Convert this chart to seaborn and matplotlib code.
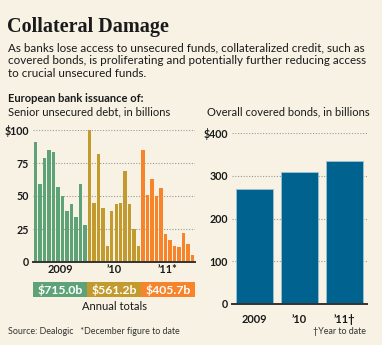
import matplotlib
matplotlib.use("Agg")
import matplotlib.pyplot as plt
import seaborn as sns
import pandas as pd
import numpy as np
from matplotlib.patches import Rectangle

# ---------------- data ----------------
years = ["2009", "'10", "'11"]
year_labels = ["2009", "\u201910", "\u201911*"]
unsecured_2009 = [91, 59, 79, 85, 83, 57, 50, 39, 44, 34, 59, 28]
unsecured_2010 = [100, 45, 82, 41, 12, 39, 44, 45, 69, 44, 25, 12]
unsecured_2011 = [85, 51, 63, 50, 56, 21, 17, 12, 11, 22, 14, 5]
annual_totals = ["$715.0b", "$561.2b", "$405.7b"]
left_ticks = [0, 25, 50, 75, 100]
left_tick_labels = ["0", "25", "50", "75", "$100"]

covered_years = ["2009", "\u201910", "\u201911\u2020"]
covered_values = [270, 309, 334]
right_ticks = [0, 100, 200, 300, 400]
right_tick_labels = ["0", "100", "200", "300", "$400"]

# ---------------- style ----------------
BG = "#f7f2e4"
GREEN = "#5ea378"
GOLD = "#c39a2e"
ORANGE = "#f7832a"
BLUE = "#00628f"
year_colors = [GREEN, GOLD, ORANGE]
FONT = "Lato"

sns.set_theme(style="white")
plt.rcParams["font.family"] = [FONT, "DejaVu Sans"]

W, H = 382, 345
fig = plt.figure(figsize=(W / 100, H / 100), dpi=100, facecolor=BG)

def rect(x0, y0, x1, y1):
    return [x0 / W, 1 - y1 / H, (x1 - x0) / W, (y1 - y0) / H]

def fx(px):
    return px / W

def fy(py):
    return 1 - py / H

# ---------------- texts ----------------
fig.text(fx(7), fy(27), "Collateral Damage", fontsize=14.5, fontweight="bold",
         family=["Liberation Serif", "DejaVu Serif"], va="center", ha="left", color="#1a1a1a")
sub = ("As banks lose access to unsecured funds, collateralized credit, such as\n"
       "covered bonds, is proliferating and potentially further reducing access\n"
       "to crucial unsecured funds.")
fig.text(fx(8), fy(42.5), sub, fontsize=8.4, va="top", ha="left", color="#1a1a1a",
         linespacing=1.2)
fig.text(fx(8), fy(98), "European bank issuance of:", fontsize=8.0, fontweight="bold",
         va="center", ha="left", color="#1a1a1a")
fig.text(fx(8), fy(112), "Senior unsecured debt, in billions", fontsize=8.0,
         va="center", ha="left", color="#1a1a1a")
fig.text(fx(207), fy(112), "Overall covered bonds, in billions", fontsize=8.0,
         va="center", ha="left", color="#1a1a1a")
fig.text(fx(8), fy(331), "Source: Dealogic   *December figure to date", fontsize=6.4,
         va="center", ha="left", color="#333333")
fig.text(fx(366), fy(332), "\u2020Year to date", fontsize=6.4,
         va="center", ha="right", color="#333333")
fig.text(fx(114), fy(307), "Annual totals", fontsize=8.0,
         va="center", ha="center", color="#1a1a1a")

# ---------------- left chart ----------------
vals = unsecured_2009 + unsecured_2010 + unsecured_2011
yr = [years[0]] * 12 + [years[1]] * 12 + [years[2]] * 12
df = pd.DataFrame({"idx": list(range(len(vals))), "value": vals, "year": yr})

axL = fig.add_axes(rect(33, 130, 195, 262))
axL.set_facecolor("none")
for t in left_ticks[1:]:
    axL.axhline(t, color="#9a9a9a", lw=0.8, ls=(0, (1, 1.5)), zorder=1)
sns.barplot(data=df, x="idx", y="value", hue="year", palette=year_colors,
            dodge=False, width=0.76, legend=False, ax=axL, saturation=1,
            linewidth=0, zorder=2)
axL.set_xlim(-0.6, 35.6)
axL.set_ylim(0, 100)
axL.set_yticks(left_ticks)
axL.set_yticklabels(left_tick_labels, fontsize=7.7, fontweight="bold", color="#1a1a1a")
axL.tick_params(axis="y", length=0, pad=3)
axL.set_xticks([5.5, 17.5, 29.5])
axL.set_xticklabels(year_labels, fontsize=7.9, fontweight="bold", color="#1a1a1a")
axL.tick_params(axis="x", length=0, pad=1.5)
axL.set_xticks([11.5, 23.5], minor=True)
axL.tick_params(axis="x", which="minor", length=4, width=0.8, color="#bbbbbb")
axL.set_xlabel("")
axL.set_ylabel("")
for s in ["top", "right", "left"]:
    axL.spines[s].set_visible(False)
axL.spines["bottom"].set_color("#333333")
axL.spines["bottom"].set_linewidth(1.4)
axL.spines["bottom"].set_zorder(4)

# annual totals boxes
axB = fig.add_axes(rect(33, 282, 195, 297))
axB.set_xlim(-0.6, 35.6)
axB.set_ylim(0, 1)
axB.axis("off")
for i, (lab, c) in enumerate(zip(annual_totals, year_colors)):
    x0 = 12 * i - 0.6 if i == 0 else 12 * i - 0.5
    x1 = 12 * i + 11.5 if i < 2 else 35.6
    axB.add_patch(Rectangle((x0, 0), x1 - x0, 1, color=c, lw=0))
    axB.text((x0 + x1) / 2, 0.5, lab, color="white", fontsize=8.8,
             fontweight="bold", ha="center", va="center")

# ---------------- right chart ----------------
axR = fig.add_axes(rect(232, 133, 367, 304))
axR.set_facecolor("none")
for t in right_ticks[1:]:
    axR.axhline(t, color="#9a9a9a", lw=0.8, ls=(0, (1, 1.5)), zorder=1)
dfr = pd.DataFrame({"year": covered_years, "value": covered_values})
sns.barplot(data=dfr, x="year", y="value", color=BLUE, saturation=1, width=0.82,
            linewidth=0.6, edgecolor="#9cc3d3", ax=axR, zorder=2)
axR.set_xlim(-0.5, 2.5)
axR.set_ylim(0, 400)
axR.set_yticks(right_ticks)
axR.set_yticklabels(right_tick_labels, fontsize=7.7, fontweight="bold", color="#1a1a1a")
axR.tick_params(axis="y", length=0, pad=3)
axR.tick_params(axis="x", length=3, width=0.8, color="#999999", pad=4,
                labelsize=7.9)
for lab in axR.get_xticklabels():
    lab.set_fontweight("bold")
    lab.set_color("#1a1a1a")
axR.set_xlabel("")
axR.set_ylabel("")
for s in ["top", "right", "left"]:
    axR.spines[s].set_visible(False)
axR.spines["bottom"].set_color("#333333")
axR.spines["bottom"].set_linewidth(1.4)
axR.spines["bottom"].set_zorder(4)

fig.savefig("out.png", dpi=100, facecolor=BG)
